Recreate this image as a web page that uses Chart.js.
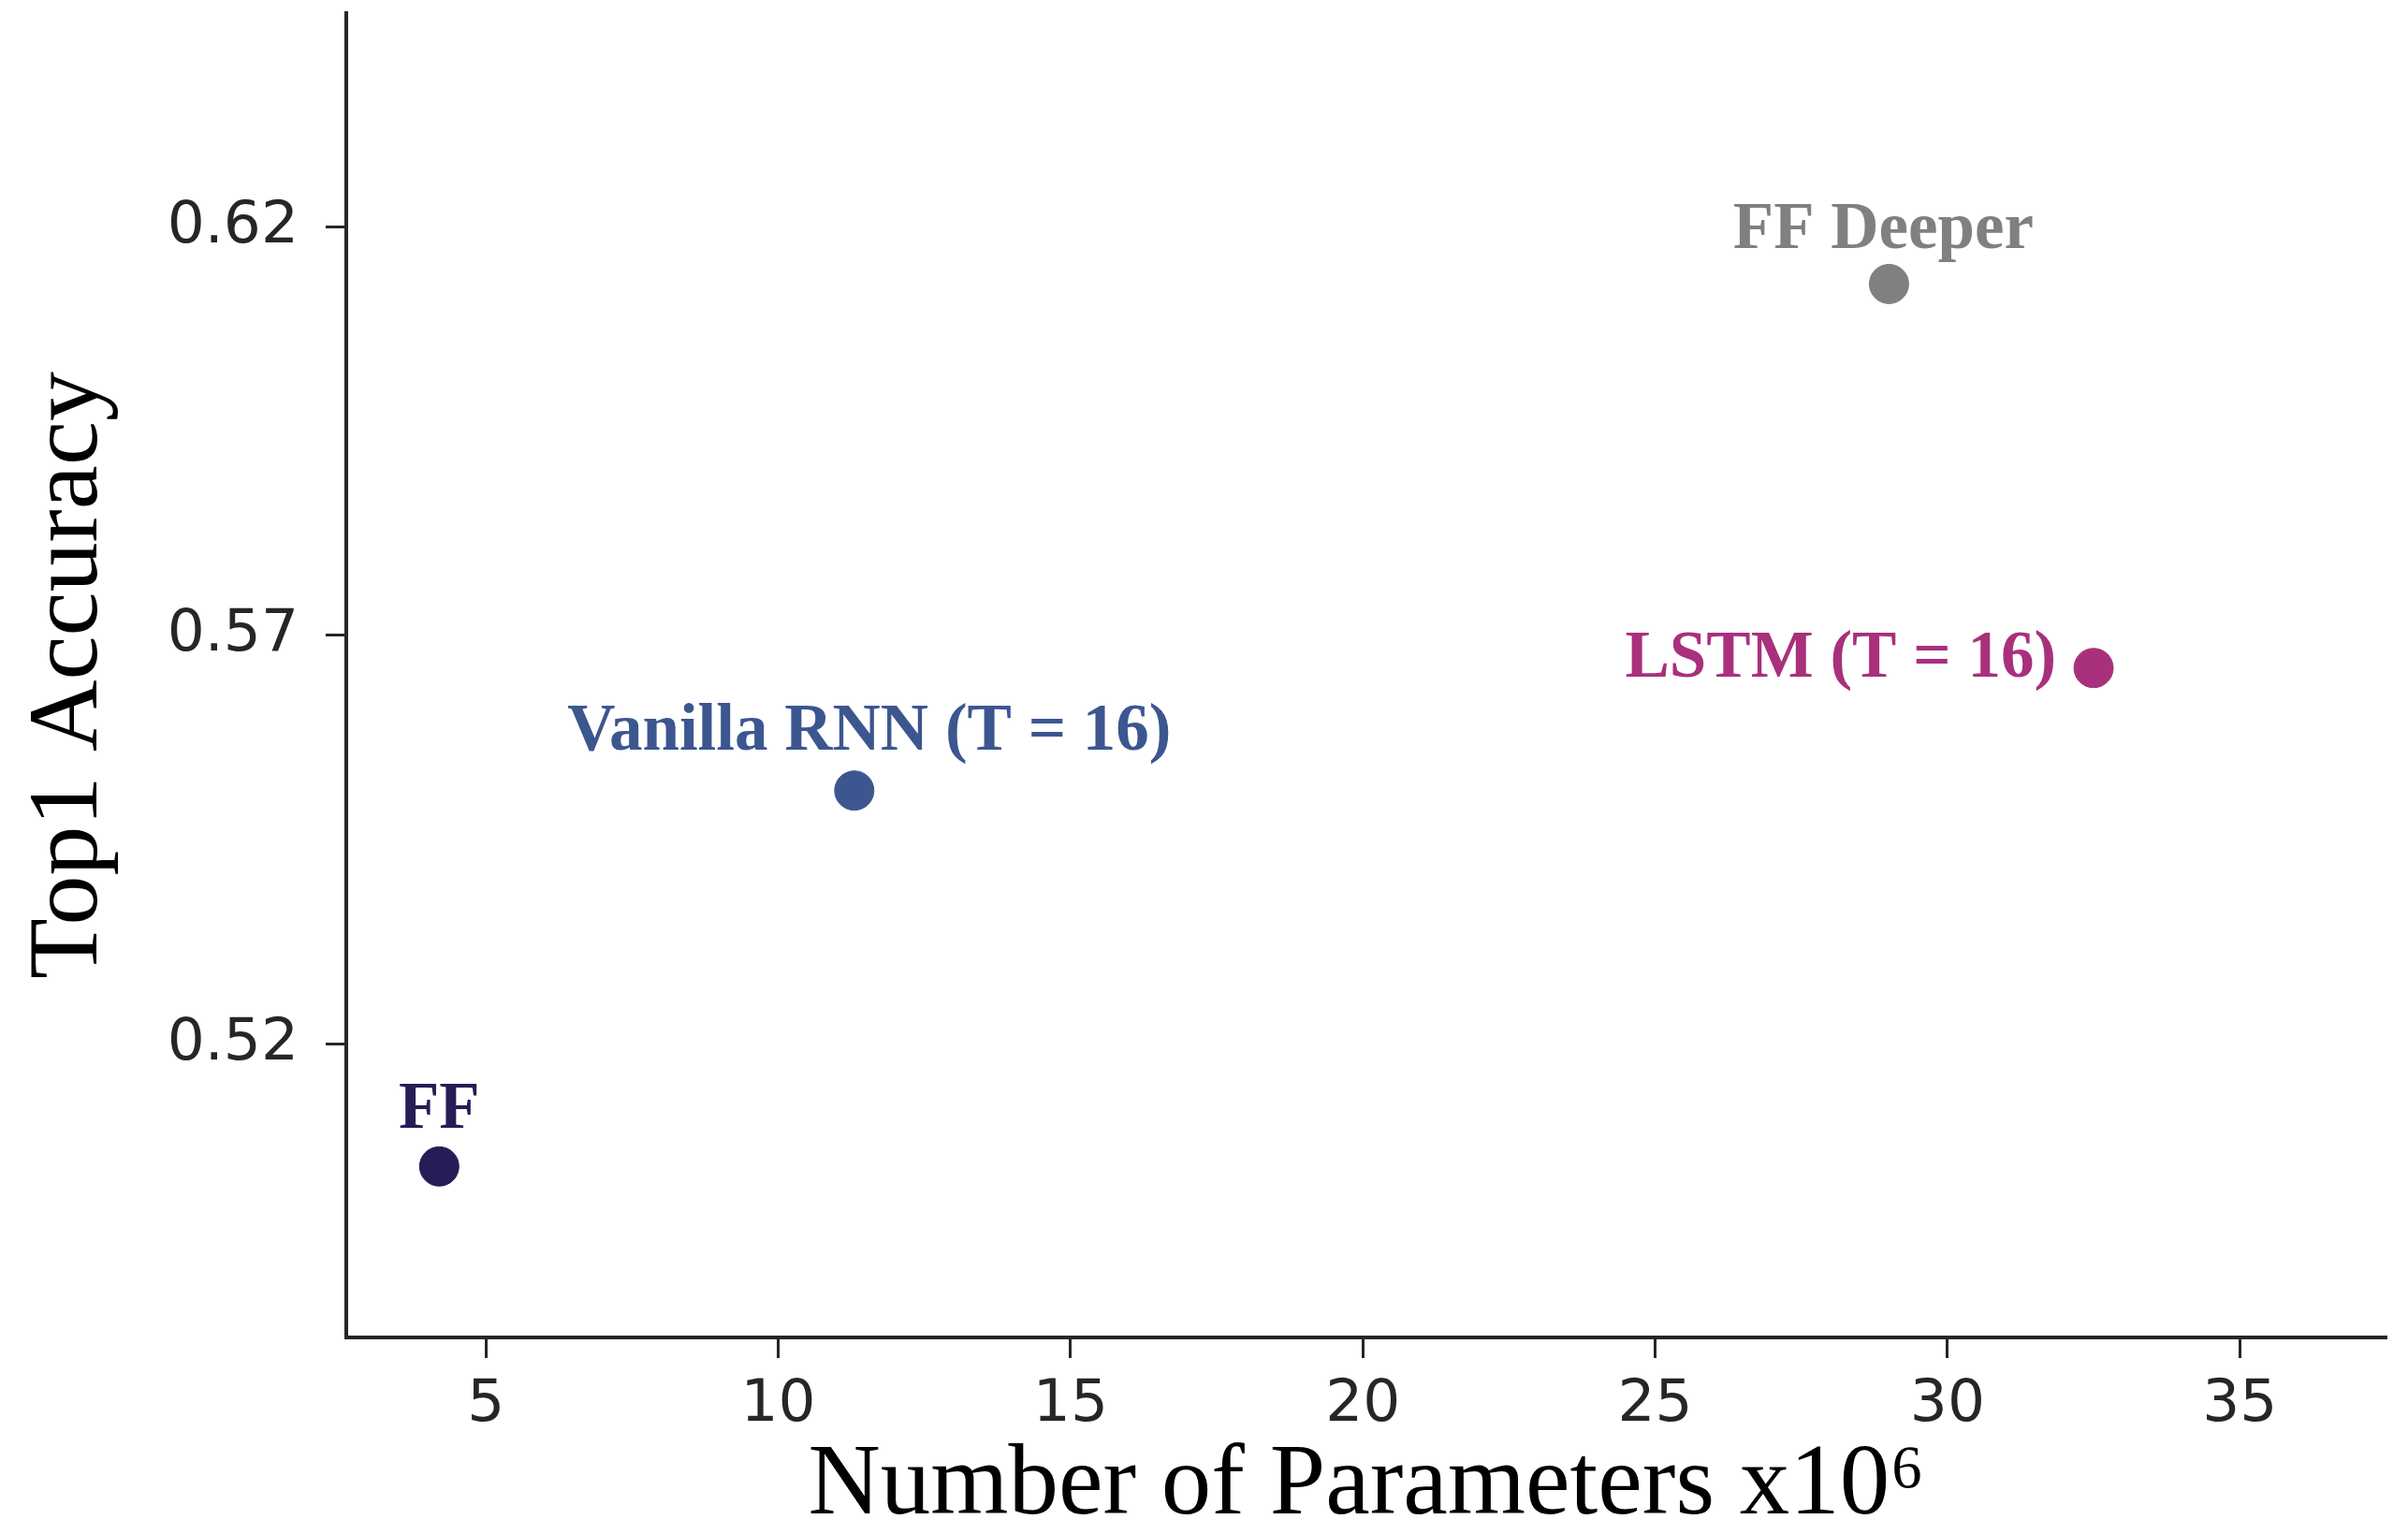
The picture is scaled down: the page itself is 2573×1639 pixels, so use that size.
<!DOCTYPE html>
<html>
<head>
<meta charset="utf-8">
<title>Top1 Accuracy vs Number of Parameters</title>
<script src="https://cdn.jsdelivr.net/npm/chart.js@4/dist/chart.umd.min.js"></script>
<style>
  html, body { margin: 0; padding: 0; background: #ffffff; }
  #wrap { width: 2573px; height: 1639px; }
</style>
</head>
<body>
<div id="wrap"><canvas id="chart" width="2573" height="1639"></canvas></div>
<script>
// Models compared: parameter count (millions) and top-1 accuracy
const modelNames = ['FF', 'Vanilla RNN (T = 16)', 'LSTM (T = 16)', 'FF Deeper'];
const paramCountsM = [4.2, 11.3, 32.5, 29.0];
const top1Accuracy = [0.505, 0.551, 0.566, 0.613];

// Axis ticks
const xTickValues = [5, 10, 15, 20, 25, 30, 35];
const yTickValues = [0.52, 0.57, 0.62];

// Styling
const pointColors = ['#251e56', '#3c5690', '#a8307c', '#808080'];
const axisInk = '#262626';
const labelFont = 'bold 71px "Liberation Serif", "Times New Roman", serif';
// Where each model's name sits relative to its marker
const labelPlacement = [
  { align: 'center', dx: 0,   dy: -41 },
  { align: 'center', dx: 16,  dy: -44 },
  { align: 'right',  dx: -40, dy: 9 },
  { align: 'center', dx: -6,  dy: -38 }
];

const pointLabels = {
  id: 'pointLabels',
  afterDatasetsDraw(chart) {
    const ctx = chart.ctx;
    const meta = chart.getDatasetMeta(0);
    ctx.save();
    ctx.font = labelFont;
    ctx.textBaseline = 'alphabetic';
    meta.data.forEach((pt, i) => {
      const { x, y } = pt.getProps(['x', 'y'], true);
      const p = labelPlacement[i];
      ctx.textAlign = p.align;
      ctx.fillStyle = pointColors[i];
      ctx.fillText(modelNames[i], x + p.dx, y + p.dy);
    });
    ctx.restore();
  }
};

const points = paramCountsM.map((x, i) => ({ x: x, y: top1Accuracy[i] }));

new Chart(document.getElementById('chart'), {
  type: 'scatter',
  data: {
    datasets: [{
      data: points,
      pointRadius: 21,
      pointHoverRadius: 21,
      pointBorderWidth: 1,
      pointBackgroundColor: pointColors,
      pointBorderColor: pointColors
    }]
  },
  options: {
    responsive: false,
    devicePixelRatio: 1,
    animation: false,
    layout: { autoPadding: false, padding: { top: 14, right: 23, left: 0, bottom: 0 } },
    plugins: { legend: { display: false }, tooltip: { enabled: false } },
    scales: {
      x: {
        type: 'linear',
        min: 2.61,
        max: 37.51,
        afterBuildTicks(scale) { scale.ticks = xTickValues.map(v => ({ value: v })); },
        afterFit(scale) {
          scale.height = 210;
          scale.paddingLeft = 0;
          scale.paddingRight = 0;
        },
        grid: { display: true, drawOnChartArea: false, drawTicks: true, tickLength: 22, tickWidth: 3, tickColor: axisInk },
        border: { display: true, color: axisInk, width: 4 },
        ticks: {
          padding: 13,
          color: axisInk,
          maxRotation: 0,
          autoSkip: false,
          font: { family: '"DejaVu Sans", sans-serif', size: 63 },
          callback: v => String(v)
        },
        title: {
          display: true,
          text: 'Number of Parameters x10⁶',
          color: '#000000',
          padding: { top: 0, bottom: 2 },
          font: { family: '"Liberation Serif", "Times New Roman", serif', size: 107, lineHeight: 0.9 }
        }
      },
      y: {
        type: 'linear',
        min: 0.48407,
        max: 0.64615,
        afterBuildTicks(scale) { scale.ticks = yTickValues.map(v => ({ value: v })); },
        afterFit(scale) {
          scale.width = 370;
          scale.paddingTop = 0;
          scale.paddingBottom = 0;
        },
        grid: { display: true, drawOnChartArea: false, drawTicks: true, tickLength: 22, tickWidth: 3, tickColor: axisInk },
        border: { display: true, color: axisInk, width: 4 },
        ticks: {
          padding: 29,
          color: axisInk,
          autoSkip: false,
          font: { family: '"DejaVu Sans", sans-serif', size: 63 },
          callback: v => v.toFixed(2)
        },
        title: {
          display: true,
          text: 'Top1 Accuracy',
          color: '#000000',
          padding: { top: 27, bottom: 0 },
          font: { family: '"Liberation Serif", "Times New Roman", serif', size: 106, lineHeight: 0.9 }
        }
      }
    }
  },
  plugins: [pointLabels]
});
</script>
</body>
</html>
